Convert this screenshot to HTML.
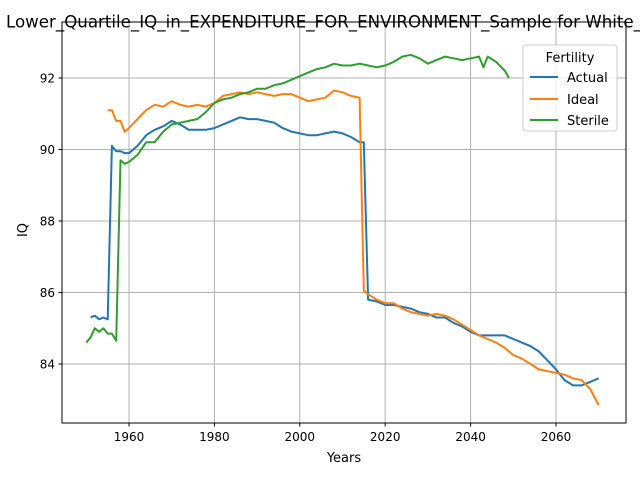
<!DOCTYPE html>
<html><head><meta charset="utf-8"><style>
body{margin:0;background:#fff;font-family:"DejaVu Sans","Liberation Sans",sans-serif;}
svg text{font-family:"DejaVu Sans","Liberation Sans",sans-serif;}
</style></head><body>
<svg id="chart" width="640" height="480" xmlns="http://www.w3.org/2000/svg">
<rect width="640" height="480" fill="#fff"/>
<g id="grid"></g>
<g id="series"></g>
<rect x="62" y="22" width="564" height="401" fill="none" stroke="#000" stroke-width="1"/>
<g id="axes"></g>
<text x="6" y="27.5" font-size="16.6" textLength="636" lengthAdjust="spacingAndGlyphs">Lower_Quartile_IQ_in_EXPENDITURE_FOR_ENVIRONMENT_Sample for White_</text>
<text x="344" y="462" font-size="13" text-anchor="middle">Years</text>
<text x="27" y="230" font-size="13" text-anchor="middle" transform="rotate(-90 27 230)">IQ</text>
<g>
<rect x="523" y="45" width="94" height="86" rx="3" fill="#fff" fill-opacity="0.8" stroke="#ccc"/>
<text x="570" y="62" font-size="13" text-anchor="middle">Fertility</text>
<g><line x1="530" y1="77" x2="558" y2="77" stroke="#1f77b4" stroke-width="2"/><text x="567" y="82" font-size="13">Actual</text></g>
<g><line x1="530" y1="99" x2="558" y2="99" stroke="#ff7f0e" stroke-width="2"/><text x="567" y="104" font-size="13">Ideal</text></g>
<g><line x1="530" y1="120" x2="558" y2="120" stroke="#2ca02c" stroke-width="2"/><text x="567" y="125" font-size="13">Sterile</text></g>
</g>
</svg>
<script>
const actualYears=[1951,1952,1953,1954,1955,1956,1957,1958,1959,1960,1962,1964,1966,1968,1970,1972,1974,1976,1978,1980,1982,1984,1986,1988,1990,1992,1994,1996,1998,2000,2002,2004,2006,2008,2010,2012,2014,2015,2016,2018,2020,2022,2024,2026,2028,2030,2032,2034,2036,2038,2040,2042,2044,2046,2048,2050,2052,2054,2056,2058,2060,2062,2064,2066,2068,2070];
const actualValues=[85.3,85.35,85.25,85.3,85.25,90.1,89.95,89.95,89.9,89.9,90.1,90.4,90.55,90.65,90.8,90.7,90.55,90.55,90.55,90.6,90.7,90.8,90.9,90.85,90.85,90.8,90.75,90.6,90.5,90.45,90.4,90.4,90.45,90.5,90.45,90.35,90.2,90.2,85.8,85.75,85.65,85.65,85.6,85.55,85.45,85.4,85.3,85.3,85.15,85.05,84.9,84.8,84.8,84.8,84.8,84.7,84.6,84.5,84.35,84.1,83.85,83.55,83.4,83.4,83.5,83.6];
const idealYears=[1955,1956,1957,1958,1959,1960,1962,1964,1966,1968,1970,1972,1974,1976,1978,1980,1982,1984,1986,1988,1990,1992,1994,1996,1998,2000,2002,2004,2006,2008,2010,2012,2014,2015,2016,2018,2020,2022,2024,2026,2028,2030,2032,2034,2036,2038,2040,2042,2044,2046,2048,2050,2052,2054,2056,2058,2060,2062,2064,2066,2068,2070];
const idealValues=[91.1,91.1,90.8,90.8,90.5,90.6,90.85,91.1,91.25,91.2,91.35,91.25,91.2,91.25,91.2,91.3,91.5,91.55,91.6,91.55,91.6,91.55,91.5,91.55,91.55,91.45,91.35,91.4,91.45,91.65,91.6,91.5,91.45,86.05,85.95,85.8,85.7,85.7,85.55,85.45,85.4,85.35,85.4,85.35,85.25,85.1,84.95,84.8,84.7,84.6,84.45,84.25,84.15,84.0,83.85,83.8,83.75,83.7,83.6,83.55,83.3,82.85];
const sterileYears=[1950,1951,1952,1953,1954,1955,1956,1957,1958,1959,1960,1962,1964,1966,1968,1970,1972,1974,1976,1978,1980,1982,1984,1986,1988,1990,1992,1994,1996,1998,2000,2002,2004,2006,2008,2010,2012,2014,2016,2018,2020,2022,2024,2026,2028,2030,2032,2034,2036,2038,2040,2042,2043,2044,2046,2048,2049];
const sterileValues=[84.6,84.75,85.0,84.9,85.0,84.85,84.85,84.65,89.7,89.6,89.65,89.85,90.2,90.2,90.5,90.7,90.75,90.8,90.85,91.05,91.3,91.4,91.45,91.55,91.6,91.7,91.7,91.8,91.85,91.95,92.05,92.15,92.25,92.3,92.4,92.35,92.35,92.4,92.35,92.3,92.35,92.45,92.6,92.65,92.55,92.4,92.5,92.6,92.55,92.5,92.55,92.6,92.3,92.6,92.45,92.2,92.0];
const xTicks=[1960,1980,2000,2020,2040,2060];
const yTicks=[84,86,88,90,92];

const NS="http://www.w3.org/2000/svg";
function xs(v){return 129+(v-1960)*4.27;}
function ys(v){return 78+(92-v)*35.75;}
const grid=document.getElementById('grid'),axes=document.getElementById('axes'),ser=document.getElementById('series');
function mk(tag,attrs,parent){const e=document.createElementNS(NS,tag);for(const k in attrs)e.setAttribute(k,attrs[k]);parent.appendChild(e);return e;}
xTicks.forEach(t=>{
  const x=xs(t);
  const g=mk('line',{x1:x,x2:x,y1:22,y2:423,stroke:'#b0b0b0','stroke-width':1},grid);
  
  
  mk('line',{x1:x,x2:x,y1:423,y2:426.5,stroke:'#000'},axes);
  const tx=mk('text',{x:x,y:441,'font-size':12,'text-anchor':'middle'},axes);
  tx.textContent=t;
  
  
});
yTicks.forEach(t=>{
  const y=ys(t);
  const g=mk('line',{x1:62,x2:626,y1:y,y2:y,stroke:'#b0b0b0','stroke-width':1},grid);
  
  
  mk('line',{x1:58.5,x2:62,y1:y,y2:y,stroke:'#000'},axes);
  const tx=mk('text',{x:55,y:y+4.5,'font-size':12,'text-anchor':'end'},axes);
  tx.textContent=t;
  
  
});
function line(xsArr,vals,color,name){
  const d=xsArr.map((yr,i)=>(i?'L':'M')+xs(yr).toFixed(1)+','+ys(vals[i]).toFixed(1)).join(' ');
  const p=mk('path',{d:d,fill:'none',stroke:color,'stroke-width':2,'stroke-linejoin':'round'},ser);
  
  
}
line(actualYears,actualValues,'#1f77b4','actual-line');
line(idealYears,idealValues,'#ff7f0e','ideal-line');
line(sterileYears,sterileValues,'#2ca02c','sterile-line');
</script>
</body></html>
